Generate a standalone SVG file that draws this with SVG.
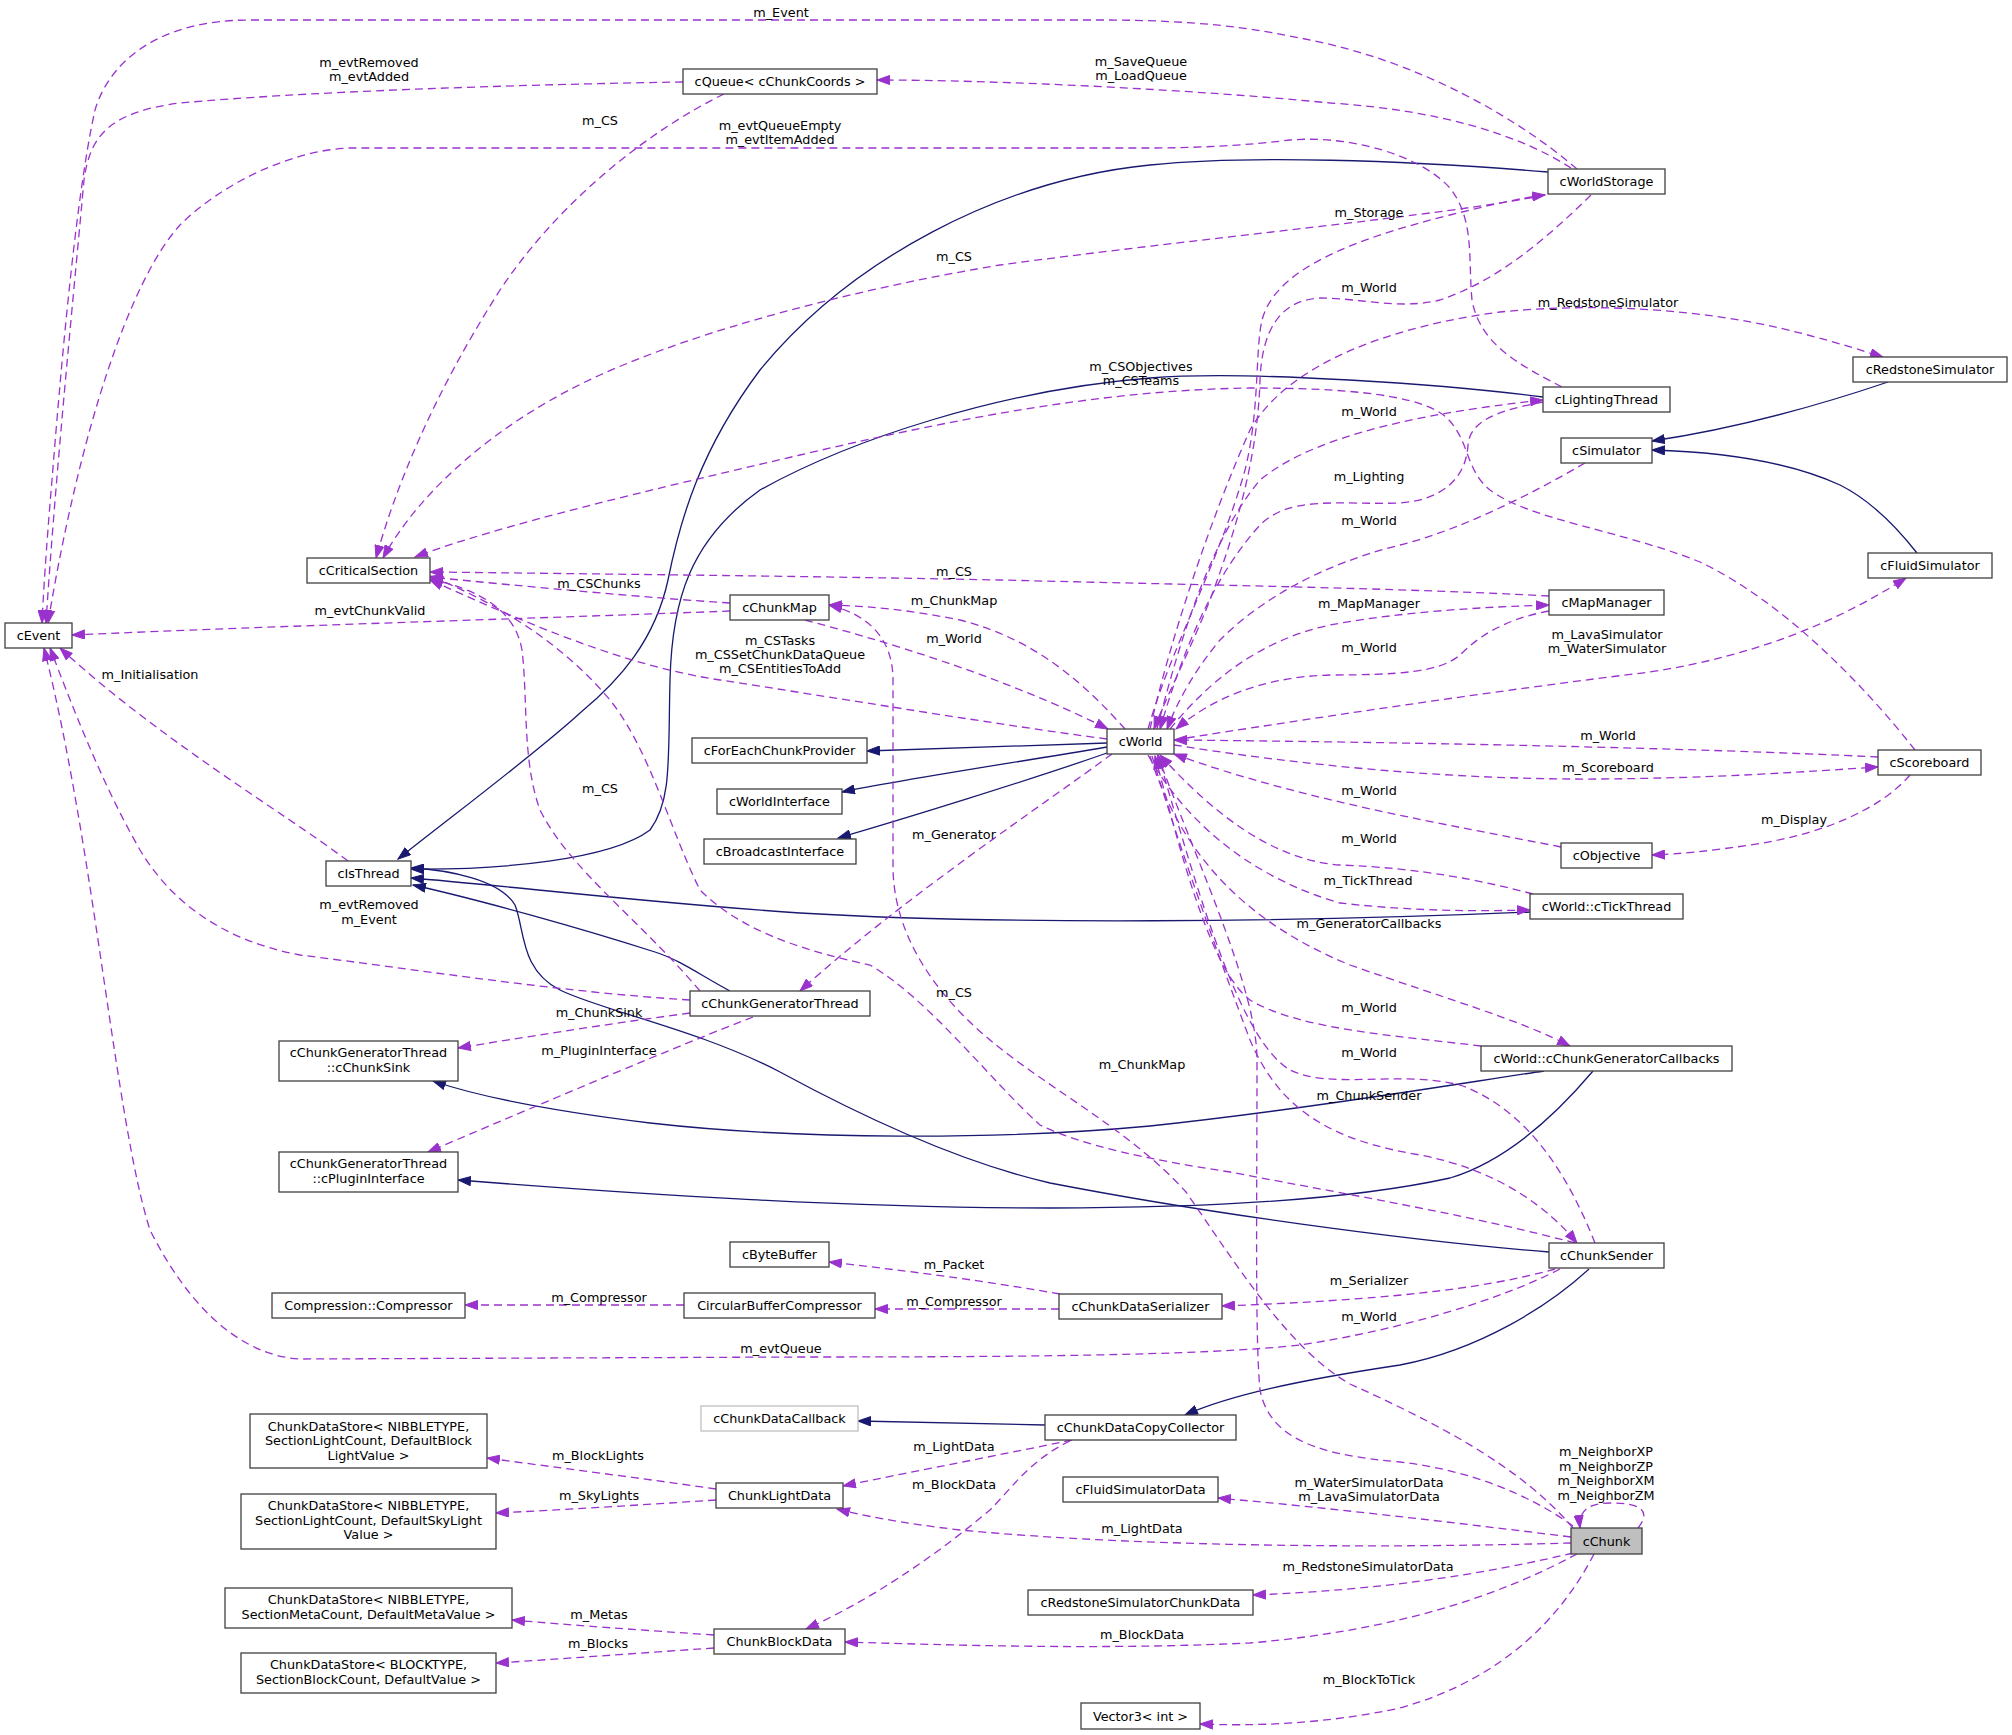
<svg xmlns="http://www.w3.org/2000/svg" width="2012" height="1735" viewBox="0 0 2012 1735">
<defs>
<style>
text{font-family:"DejaVu Sans","Liberation Sans",sans-serif;font-size:12.8px;fill:#000;text-anchor:middle}
.n rect{fill:#fff;stroke:#404040;stroke-width:1.3}
.d{fill:none;stroke:#9a32cd;stroke-width:1.3;stroke-dasharray:8,5;marker-end:url(#ap)}
.s{fill:none;stroke:#191970;stroke-width:1.3;marker-end:url(#ab)}
</style>
<marker id="ap" viewBox="0 0 14 10" refX="13" refY="5" markerWidth="14" markerHeight="10" markerUnits="userSpaceOnUse" orient="auto"><path d="M0.5,0.5 L13,5 L0.5,9.5 z" fill="#9a32cd" stroke="#9a32cd" stroke-width="1"/></marker>
<marker id="ab" viewBox="0 0 14 10" refX="13" refY="5" markerWidth="14" markerHeight="10" markerUnits="userSpaceOnUse" orient="auto"><path d="M0.5,0.5 L13,5 L0.5,9.5 z" fill="#191970" stroke="#191970" stroke-width="1"/></marker>
</defs>
<rect x="0" y="0" width="2012" height="1735" fill="#fff"/>
<g id="edges">
<path class="s" d="M1548,172 C1400,160 1250,155 1150,165 C1000,180 850,260 760,370 C700,450 680,520 668,580 C655,640 620,680 580,713 C540,750 460,810 398,859"/>
<path class="s" d="M1543,397 C1450,385 1250,370 1150,378 C1000,390 850,440 760,490 C690,540 672,600 670,680 C668,760 672,800 650,830 C610,860 500,870 411,869"/>
<path class="s" d="M1530,912 C1300,922 1000,925 800,913 C650,903 500,885 411,878"/>
<path class="s" d="M730,991 C700,975 680,960 655,952 C580,928 480,900 413,885"/>
<path class="s" d="M1549,1252 C1400,1240 1200,1212 1050,1183 C950,1160 850,1110 780,1072 C700,1030 600,1010 560,990 C520,970 525,930 515,905 C500,880 450,870 411,868"/>
<path class="s" d="M1544,1071 C1450,1085 1300,1110 1150,1126 C1000,1140 800,1140 650,1123 C560,1112 480,1097 433,1081"/>
<path class="s" d="M1593,1071 C1560,1110 1510,1160 1450,1178 C1350,1200 1200,1208 1050,1208 C850,1208 650,1195 458,1180"/>
<path class="s" d="M1107,743 L867,751"/>
<path class="s" d="M1107,747 C1000,765 900,780 842,792"/>
<path class="s" d="M1107,753 C1030,780 900,820 838,838"/>
<path class="s" d="M1888,382 C1820,405 1740,428 1652,441"/>
<path class="s" d="M1917,553 C1895,525 1870,500 1840,485 C1790,462 1720,452 1652,450"/>
<path class="s" d="M1045,1425 L858,1421"/>
<path class="s" d="M1589,1269 C1550,1305 1480,1350 1400,1365 C1300,1380 1230,1395 1185,1415"/>

<path class="d" d="M1577,169 C1520,120 1420,60 1300,38 C1250,28 1200,20 1100,20 L250,20 C160,20 110,60 95,110 C75,200 60,380 52,480 C46,550 43,600 42,623"/>
<path class="d" d="M683,82 C500,85 300,92 180,103 C110,112 90,135 84,180 C75,280 55,480 46,623"/>
<path class="d" d="M1562,387 C1520,365 1480,345 1472,300 C1468,260 1475,220 1450,188 C1420,155 1350,135 1290,140 C1250,145 1200,148 1150,148 L350,148 C290,150 220,185 180,225 C130,280 80,430 48,623"/>
<path class="d" d="M724,94 C650,130 560,200 500,290 C430,400 395,490 376,558"/>
<path class="d" d="M1545,195 C1450,215 1200,238 1000,265 C850,290 700,330 600,375 C500,420 420,490 383,558"/>
<path class="d" d="M1148,729 C1170,650 1220,560 1245,470 C1260,410 1255,350 1262,320 C1275,270 1350,240 1450,215 C1490,205 1520,198 1545,195"/>
<path class="d" d="M1591,195 C1550,235 1500,280 1440,300 C1400,310 1360,298 1320,298 C1280,300 1262,330 1260,380 C1258,450 1240,520 1210,600 C1190,650 1165,700 1154,729"/>
<path class="d" d="M1571,168 C1520,135 1440,110 1330,103 C1200,90 1000,80 877,80"/>
<path class="d" d="M1150,729 C1170,640 1210,520 1250,430 C1290,360 1400,325 1500,312 C1600,302 1700,310 1780,328 C1830,340 1860,350 1883,357"/>
<path class="d" d="M1157,729 C1180,640 1210,540 1260,480 C1320,430 1450,410 1543,400"/>
<path class="d" d="M1543,402 C1500,410 1470,420 1468,445 C1466,480 1440,500 1400,503 C1340,505 1290,495 1260,525 C1210,580 1180,660 1160,729"/>
<path class="d" d="M1585,463 C1530,495 1460,530 1400,545 C1320,565 1260,600 1220,640 C1195,670 1178,700 1167,729"/>
<path class="d" d="M1174,740 C1300,720 1500,690 1650,672 C1760,655 1840,620 1906,578"/>
<path class="d" d="M1170,729 C1210,680 1260,640 1330,625 C1400,612 1480,607 1549,605"/>
<path class="d" d="M1549,611 C1500,620 1475,640 1460,655 C1440,672 1400,675 1330,675 C1260,677 1210,700 1176,729"/>
<path class="d" d="M1549,596 C1400,588 1200,585 1000,580 C800,576 600,574 430,572"/>
<path class="d" d="M730,603 C650,598 520,586 430,577"/>
<path class="d" d="M730,611 C550,618 300,625 72,635"/>
<path class="d" d="M1125,729 C1090,690 1040,640 960,620 C910,610 870,606 829,605"/>
<path class="d" d="M805,620 C880,640 1000,675 1108,729"/>
<path class="d" d="M1107,739 C1000,725 850,700 720,680 C620,665 520,620 430,580"/>
<path class="d" d="M700,991 C640,920 570,870 540,810 C522,760 528,700 522,650 C515,610 480,590 430,579"/>
<path class="d" d="M1575,1243 C1470,1215 1350,1195 1230,1172 C1150,1160 1080,1145 1040,1125 C990,1080 930,1000 870,965 C800,950 740,930 700,890 C670,830 650,750 610,700 C560,640 490,600 430,576"/>
<path class="d" d="M1915,750 C1860,680 1780,600 1700,562 C1620,530 1530,520 1490,490 C1465,470 1470,440 1446,417 C1420,395 1350,388 1250,388 C1100,390 950,420 800,455 C650,490 500,525 415,557"/>
<path class="d" d="M348,861 C280,810 160,740 60,648"/>
<path class="d" d="M690,1000 C560,992 420,970 300,955 C220,940 170,900 140,850 C100,780 70,700 50,648"/>
<path class="d" d="M1560,1269 C1500,1300 1400,1330 1300,1345 C1200,1356 1000,1357 800,1357 L300,1359 C230,1355 180,1290 150,1230 C115,1120 95,850 44,648"/>
<path class="d" d="M1112,754 C1050,800 900,900 800,991"/>
<path class="d" d="M690,1013 C600,1025 520,1038 458,1048"/>
<path class="d" d="M753,1017 C680,1045 550,1100 428,1152"/>
<path class="d" d="M1152,756 C1180,850 1220,960 1250,1040 C1280,1110 1330,1140 1420,1155 C1500,1170 1550,1210 1577,1243"/>
<path class="d" d="M1595,1243 C1570,1180 1530,1110 1460,1085 C1400,1070 1330,1090 1290,1070 C1240,1040 1200,900 1158,755"/>
<path class="d" d="M1573,1528 C1520,1465 1430,1420 1350,1384 C1290,1350 1240,1270 1186,1192 C1130,1130 1050,1090 990,1040 C930,990 893,930 893,866 L893,680 C893,640 870,615 829,605"/>
<path class="d" d="M1573,1526 C1530,1495 1470,1470 1400,1462 C1320,1455 1270,1440 1260,1390 C1255,1340 1257,1200 1257,1060 C1257,990 1200,870 1158,756"/>
<path class="d" d="M1481,1046 C1400,1036 1300,1030 1250,1000 C1210,970 1180,850 1155,756"/>
<path class="d" d="M1150,756 C1180,850 1240,920 1350,965 C1450,1000 1520,1020 1570,1046"/>
<path class="d" d="M1148,755 C1190,830 1260,880 1340,903 C1420,912 1480,911 1530,910"/>
<path class="d" d="M1533,894 C1480,880 1420,868 1340,865 C1270,860 1210,810 1160,755"/>
<path class="d" d="M1561,847 C1450,825 1300,800 1174,754"/>
<path class="d" d="M1878,757 C1700,748 1400,742 1174,740"/>
<path class="d" d="M1174,745 C1300,765 1450,780 1600,779 C1720,778 1800,772 1878,767"/>
<path class="d" d="M1910,775 C1880,810 1820,835 1750,845 C1710,851 1680,854 1652,855"/>
<path class="d" d="M1555,1269 C1480,1290 1380,1300 1222,1306"/>
<path class="d" d="M1060,1294 C980,1280 900,1270 829,1262"/>
<path class="d" d="M1059,1309 L875,1309"/>
<path class="d" d="M684,1305 L465,1305"/>
<path class="d" d="M1072,1440 C1000,1455 920,1470 843,1486"/>
<path class="d" d="M1070,1441 C1030,1460 1010,1490 990,1510 C930,1560 870,1600 806,1629"/>
<path class="d" d="M716,1489 C640,1478 560,1468 487,1458"/>
<path class="d" d="M716,1500 C640,1505 560,1510 496,1513"/>
<path class="d" d="M714,1635 C640,1630 570,1625 512,1620"/>
<path class="d" d="M714,1648 C640,1653 560,1659 496,1663"/>
<path class="d" d="M1571,1537 C1450,1522 1330,1508 1218,1498"/>
<path class="d" d="M1571,1543 C1400,1548 1150,1548 960,1530 C900,1523 860,1515 837,1509"/>
<path class="d" d="M1573,1553 C1480,1575 1380,1590 1253,1595"/>
<path class="d" d="M1577,1554 C1500,1595 1400,1630 1250,1643 C1100,1650 950,1645 845,1642"/>
<path class="d" d="M1594,1554 C1560,1620 1500,1680 1400,1708 C1320,1725 1250,1726 1200,1724"/>
<path class="d" d="M1638,1528 C1652,1510 1640,1503 1610,1503 C1590,1503 1578,1510 1580,1528"/>
</g>
<g id="edge-labels">
<text x="781" y="16.5">m_Event</text>
<text x="369" y="66.5">m_evtRemoved</text>
<text x="369" y="81">m_evtAdded</text>
<text x="600" y="124.5">m_CS</text>
<text x="1141" y="65.5">m_SaveQueue</text>
<text x="1141" y="79.5">m_LoadQueue</text>
<text x="780" y="129.5">m_evtQueueEmpty</text>
<text x="780" y="143.5">m_evtItemAdded</text>
<text x="1369" y="216.5">m_Storage</text>
<text x="954" y="260.5">m_CS</text>
<text x="1369" y="291.5">m_World</text>
<text x="1608" y="306.5">m_RedstoneSimulator</text>
<text x="1141" y="370.5">m_CSObjectives</text>
<text x="1141" y="384.5">m_CSTeams</text>
<text x="1369" y="416">m_World</text>
<text x="1369" y="480.5">m_Lighting</text>
<text x="1369" y="525">m_World</text>
<text x="954" y="575.5">m_CS</text>
<text x="599" y="587.5">m_CSChunks</text>
<text x="954" y="604.5">m_ChunkMap</text>
<text x="1369" y="607.5">m_MapManager</text>
<text x="370" y="614.5">m_evtChunkValid</text>
<text x="1607" y="639">m_LavaSimulator</text>
<text x="1607" y="653">m_WaterSimulator</text>
<text x="954" y="643">m_World</text>
<text x="780" y="644.5">m_CSTasks</text>
<text x="780" y="658.5">m_CSSetChunkDataQueue</text>
<text x="780" y="672.5">m_CSEntitiesToAdd</text>
<text x="1369" y="651.5">m_World</text>
<text x="150" y="678.5">m_Initialisation</text>
<text x="1608" y="739.5">m_World</text>
<text x="1608" y="771.5">m_Scoreboard</text>
<text x="600" y="792.5">m_CS</text>
<text x="1369" y="794.5">m_World</text>
<text x="1794" y="824">m_Display</text>
<text x="954" y="838.5">m_Generator</text>
<text x="1369" y="842.5">m_World</text>
<text x="1368" y="884.5">m_TickThread</text>
<text x="369" y="908.5">m_evtRemoved</text>
<text x="369" y="924">m_Event</text>
<text x="1369" y="927.5">m_GeneratorCallbacks</text>
<text x="954" y="996.5">m_CS</text>
<text x="1369" y="1011.5">m_World</text>
<text x="599" y="1016.5">m_ChunkSink</text>
<text x="599" y="1055">m_PluginInterface</text>
<text x="1369" y="1056.5">m_World</text>
<text x="1142" y="1068.5">m_ChunkMap</text>
<text x="1369" y="1100">m_ChunkSender</text>
<text x="954" y="1268.5">m_Packet</text>
<text x="1369" y="1285">m_Serializer</text>
<text x="599" y="1301.5">m_Compressor</text>
<text x="954" y="1305.5">m_Compressor</text>
<text x="1369" y="1320.5">m_World</text>
<text x="781" y="1352.5">m_evtQueue</text>
<text x="954" y="1451">m_LightData</text>
<text x="1606" y="1455.5">m_NeighborXP</text>
<text x="1606" y="1470.5">m_NeighborZP</text>
<text x="1606" y="1485">m_NeighborXM</text>
<text x="1606" y="1500">m_NeighborZM</text>
<text x="598" y="1459.5">m_BlockLights</text>
<text x="1369" y="1486.5">m_WaterSimulatorData</text>
<text x="1369" y="1501">m_LavaSimulatorData</text>
<text x="954" y="1488.5">m_BlockData</text>
<text x="599" y="1500">m_SkyLights</text>
<text x="1142" y="1532.5">m_LightData</text>
<text x="1368" y="1570.5">m_RedstoneSimulatorData</text>
<text x="599" y="1619">m_Metas</text>
<text x="1142" y="1638.5">m_BlockData</text>
<text x="598" y="1648">m_Blocks</text>
<text x="1369" y="1683.5">m_BlockToTick</text>
</g>
<g id="nodes">
<g id="node-cEvent" class="n"><rect x="5" y="623" width="67" height="25"/><text x="38.5" y="640">cEvent</text></g>
<g id="node-cCriticalSection" class="n"><rect x="307" y="558" width="123" height="25"/><text x="368.5" y="575">cCriticalSection</text></g>
<g id="node-cQueue" class="n"><rect x="683" y="69" width="194" height="25"/><text x="780" y="86">cQueue&lt; cChunkCoords &gt;</text></g>
<g id="node-cWorldStorage" class="n"><rect x="1548" y="169" width="117" height="25"/><text x="1606.5" y="186">cWorldStorage</text></g>
<g id="node-cRedstoneSimulator" class="n"><rect x="1853" y="357" width="154" height="25"/><text x="1930" y="374">cRedstoneSimulator</text></g>
<g id="node-cLightingThread" class="n"><rect x="1543" y="387" width="127" height="25"/><text x="1606.5" y="404">cLightingThread</text></g>
<g id="node-cSimulator" class="n"><rect x="1561" y="438" width="91" height="25"/><text x="1606.5" y="455">cSimulator</text></g>
<g id="node-cFluidSimulator" class="n"><rect x="1868" y="553" width="124" height="25"/><text x="1930" y="570">cFluidSimulator</text></g>
<g id="node-cMapManager" class="n"><rect x="1549" y="590" width="115" height="25"/><text x="1606.5" y="607">cMapManager</text></g>
<g id="node-cChunkMap" class="n"><rect x="730" y="595" width="99" height="25"/><text x="779.5" y="612">cChunkMap</text></g>
<g id="node-cWorld" class="n"><rect x="1107" y="729" width="67" height="25"/><text x="1140.5" y="746">cWorld</text></g>
<g id="node-cForEachChunkProvider" class="n"><rect x="692" y="738" width="175" height="25"/><text x="779.5" y="755">cForEachChunkProvider</text></g>
<g id="node-cWorldInterface" class="n"><rect x="717" y="789" width="125" height="25"/><text x="779.5" y="806">cWorldInterface</text></g>
<g id="node-cBroadcastInterface" class="n"><rect x="704" y="839" width="152" height="25"/><text x="780" y="856">cBroadcastInterface</text></g>
<g id="node-cScoreboard" class="n"><rect x="1878" y="750" width="103" height="25"/><text x="1929.5" y="767">cScoreboard</text></g>
<g id="node-cObjective" class="n"><rect x="1561" y="843" width="91" height="25"/><text x="1606.5" y="860">cObjective</text></g>
<g id="node-cIsThread" class="n"><rect x="326" y="861" width="85" height="25"/><text x="368.5" y="878">cIsThread</text></g>
<g id="node-cTickThread" class="n"><rect x="1530" y="894" width="153" height="25"/><text x="1606.5" y="911">cWorld::cTickThread</text></g>
<g id="node-cChunkGeneratorThread" class="n"><rect x="690" y="991" width="180" height="25"/><text x="780" y="1008">cChunkGeneratorThread</text></g>
<g id="node-cChunkSink" class="n"><rect x="279" y="1041" width="179" height="40"/><text x="368.5" y="1057">cChunkGeneratorThread</text><text x="368.5" y="1072">::cChunkSink</text></g>
<g id="node-cChunkGeneratorCallbacks" class="n"><rect x="1481" y="1046" width="251" height="25"/><text x="1606.5" y="1063">cWorld::cChunkGeneratorCallbacks</text></g>
<g id="node-cPluginInterface" class="n"><rect x="279" y="1152" width="179" height="40"/><text x="368.5" y="1168">cChunkGeneratorThread</text><text x="368.5" y="1183">::cPluginInterface</text></g>
<g id="node-cByteBuffer" class="n"><rect x="730" y="1242" width="99" height="25"/><text x="779.5" y="1259">cByteBuffer</text></g>
<g id="node-cChunkSender" class="n"><rect x="1549" y="1243" width="115" height="25"/><text x="1606.5" y="1260">cChunkSender</text></g>
<g id="node-Compressor" class="n"><rect x="272" y="1293" width="193" height="25"/><text x="368.5" y="1310">Compression::Compressor</text></g>
<g id="node-CircularBufferCompressor" class="n"><rect x="684" y="1293" width="191" height="25"/><text x="779.5" y="1310">CircularBufferCompressor</text></g>
<g id="node-cChunkDataSerializer" class="n"><rect x="1059" y="1294" width="163" height="25"/><text x="1140.5" y="1311">cChunkDataSerializer</text></g>
<g id="node-cChunkDataCallback" class="n"><rect x="701" y="1406" width="157" height="25" style="stroke:#bfbfbf"/><text x="779.5" y="1423">cChunkDataCallback</text></g>
<g id="node-cChunkDataCopyCollector" class="n"><rect x="1045" y="1415" width="191" height="25"/><text x="1140.5" y="1432">cChunkDataCopyCollector</text></g>
<g id="node-StoreBlockLight" class="n"><rect x="250" y="1414" width="237" height="54"/><text x="368.5" y="1430.5">ChunkDataStore&lt; NIBBLETYPE,</text><text x="368.5" y="1445"> SectionLightCount, DefaultBlock</text><text x="368.5" y="1459.5">LightValue &gt;</text></g>
<g id="node-ChunkLightData" class="n"><rect x="716" y="1483" width="127" height="25"/><text x="779.5" y="1500">ChunkLightData</text></g>
<g id="node-cFluidSimulatorData" class="n"><rect x="1063" y="1477" width="155" height="25"/><text x="1140.5" y="1494">cFluidSimulatorData</text></g>
<g id="node-StoreSkyLight" class="n"><rect x="241" y="1494" width="255" height="55"/><text x="368.5" y="1510">ChunkDataStore&lt; NIBBLETYPE,</text><text x="368.5" y="1525"> SectionLightCount, DefaultSkyLight</text><text x="368.5" y="1539">Value &gt;</text></g>
<g id="node-cChunk" class="n"><rect x="1571" y="1528" width="71" height="26" style="fill:#bfbfbf"/><text x="1606.5" y="1545.5">cChunk</text></g>
<g id="node-cRedstoneSimulatorChunkData" class="n"><rect x="1028" y="1590" width="225" height="25"/><text x="1140.5" y="1607">cRedstoneSimulatorChunkData</text></g>
<g id="node-StoreMeta" class="n"><rect x="225" y="1588" width="287" height="40"/><text x="368.5" y="1604">ChunkDataStore&lt; NIBBLETYPE,</text><text x="368.5" y="1619"> SectionMetaCount, DefaultMetaValue &gt;</text></g>
<g id="node-ChunkBlockData" class="n"><rect x="714" y="1629" width="131" height="25"/><text x="779.5" y="1646">ChunkBlockData</text></g>
<g id="node-StoreBlocks" class="n"><rect x="241" y="1653" width="255" height="40"/><text x="368.5" y="1669">ChunkDataStore&lt; BLOCKTYPE,</text><text x="368.5" y="1684"> SectionBlockCount, DefaultValue &gt;</text></g>
<g id="node-Vector3" class="n"><rect x="1081" y="1703" width="119" height="26"/><text x="1140.5" y="1720.5">Vector3&lt; int &gt;</text></g>
</g>
</svg>
